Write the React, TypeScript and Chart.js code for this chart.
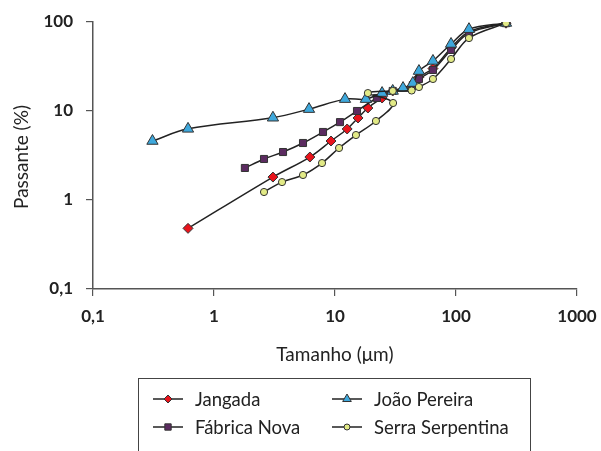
import React, { useEffect, useRef } from "react";
import { Chart, registerables } from "chart.js";

Chart.register(...registerables);

// Data (size in µm, passing %)
const jangadaX = [0.61, 3.07, 6.2, 9.27, 12.6, 15.5, 18.7, 24.5, 30, 44, 49.4, 64.5, 91, 128, 259];
const jangadaY = [0.48, 1.81, 3.04, 4.6, 6.28, 8.35, 10.8, 14.0, 16.8, 18.5, 24, 30, 51, 78, 97];

const fabricaX = [1.8, 2.59, 3.72, 5.44, 7.96, 11.0, 15.2, 22.2, 30, 44, 49.4, 64.5, 91, 128, 259];
const fabricaY = [2.29, 2.89, 3.46, 4.37, 5.81, 7.5, 10.0, 14.0, 16.8, 19.5, 22.9, 28.9, 48.5, 75, 97];

const joaoX = [0.31, 0.61, 3.07, 6.1, 12.1, 18.0, 24.5, 30, 36.5, 44, 49.4, 64.5, 91, 128, 259];
const joaoY = [4.6, 6.3, 8.4, 10.5, 13.6, 13.6, 15.9, 16.8, 18.1, 20.6, 28.1, 36.5, 56.6, 83, 97.5];

const serraX = [2.59, 3.65, 5.44, 7.81, 10.8, 14.9, 21.8, 30.2, 18.7, 30, 43, 49.4, 64.5, 91, 128, 259];
const serraY = [1.23, 1.59, 1.91, 2.6, 3.84, 5.37, 7.72, 12.3, 15.9, 16.8, 17.0, 18.6, 22.9, 38.4, 66, 97];

const xTicks = [0.1, 1, 10, 100, 1000];
const yTicks = [0.1, 1, 10, 100];

const seriesNames = ["Jangada", "Fábrica Nova", "João Pereira", "Serra Serpentina"];
const FONT = "Lato, 'Open Sans', sans-serif";

const toPts = (xs: number[], ys: number[]) => xs.map((x, i) => ({ x, y: ys[i] }));
const fmt = (v: number) => String(v).replace(".", ",");

const styles = [
  { color: "#e8141c", shape: "rectRot", r: 5, lr: 4 },
  { color: "#5b2b60", shape: "rect", r: 5, lr: 4.5 },
  { color: "#3ea8dc", shape: "triangle", r: 6.5, lr: 5 },
  { color: "#e2ea86", shape: "circle", r: 3.6, lr: 3 },
];

export default function App() {
  const ref = useRef<HTMLCanvasElement | null>(null);
  useEffect(() => {
    if (!ref.current) return;
    const data = [
      toPts(jangadaX, jangadaY),
      toPts(fabricaX, fabricaY),
      toPts(joaoX, joaoY),
      toPts(serraX, serraY),
    ];
    const orders = [3, 2, 1, 0];
    const overlay = {
      id: "overlay",
      afterDraw(chart: any) {
        const ctx = chart.ctx;
        ctx.save();
        ctx.fillStyle = "#222";
        ctx.font = `19px ${FONT}`;
        ctx.textAlign = "center";
        ctx.textBaseline = "middle";
        const ca = chart.chartArea;
        ctx.fillText("Tamanho (μm)", (ca.left + ca.right) / 2, 355);
        ctx.save();
        ctx.translate(22, 157);
        ctx.rotate(-Math.PI / 2);
        ctx.font = `19px ${FONT}`;
        ctx.fillText("Passante (%)", 0, 0);
        ctx.restore();
        ctx.strokeStyle = "#444";
        ctx.lineWidth = 1;
        ctx.strokeRect(138.5, 378.5, 392, 90);
        const pos = [
          { lx: 153, y: 399 },
          { lx: 153, y: 427 },
          { lx: 332, y: 399 },
          { lx: 332, y: 427 },
        ];
        ctx.font = `18.5px ${FONT}`;
        ctx.textAlign = "left";
        seriesNames.forEach((name, i) => {
          const p = pos[i];
          const st = styles[i];
          ctx.strokeStyle = "#222";
          ctx.lineWidth = 1.5;
          ctx.beginPath();
          ctx.moveTo(p.lx, p.y);
          ctx.lineTo(p.lx + 30, p.y);
          ctx.stroke();
          ctx.fillStyle = st.color;
          ctx.strokeStyle = "#333";
          ctx.lineWidth = 1;
          drawMarker(ctx, st.shape, st.lr, p.lx + 15, p.y);
          ctx.fillStyle = "#222";
          ctx.fillText(name, p.lx + 42, p.y + 1);
        });
        ctx.restore();
      },
    };
    const chart = new Chart(ref.current, {
      type: "line",
      data: {
        datasets: data.map((d, i) => ({
          label: seriesNames[i],
          data: d,
          order: orders[i],
          borderColor: "#222",
          borderWidth: 1.5,
          tension: 0.35,
          fill: false,
          pointStyle: styles[i].shape as any,
          pointRadius: styles[i].r,
          pointBackgroundColor: styles[i].color,
          pointBorderColor: "#333",
          pointBorderWidth: 1,
        })),
      },
      options: {
        animation: false,
        responsive: false,
        parsing: false as any,
        layout: { padding: { left: 0, top: 22, right: 24, bottom: 0 } },
        plugins: { legend: { display: false }, tooltip: { enabled: false } },
        scales: {
          x: {
            type: "logarithmic",
            min: 0.1,
            max: 1000,
            afterBuildTicks: (s: any) => {
              s.ticks = xTicks.map((v) => ({ value: v }));
            },
            afterFit: (s: any) => {
              s.height = 162;
              s.paddingLeft = 0;
              s.paddingRight = 0;
            },
            ticks: {
              autoSkip: false,
              maxRotation: 0,
              padding: 10,
              color: "#222",
              font: { family: FONT, size: 17, weight: "bold" },
              callback: (v: any) => fmt(Number(v)),
            },
            grid: { drawOnChartArea: false, drawTicks: true, tickLength: 7, color: "#555", lineWidth: 1.2 },
            border: { color: "#555", width: 1.5 },
          },
          y: {
            type: "logarithmic",
            min: 0.1,
            max: 100,
            afterBuildTicks: (s: any) => {
              s.ticks = yTicks.map((v) => ({ value: v }));
            },
            afterFit: (s: any) => {
              s.width = 93;
              s.paddingTop = 0;
              s.paddingBottom = 0;
            },
            ticks: {
              autoSkip: false,
              padding: 13,
              color: "#222",
              font: { family: FONT, size: 17, weight: "bold" },
              callback: (v: any) => fmt(Number(v)),
            },
            grid: { drawOnChartArea: false, drawTicks: true, tickLength: 7, color: "#555", lineWidth: 1.2 },
            border: { color: "#555", width: 1.5 },
          },
        },
      },
      plugins: [overlay],
    });
    return () => chart.destroy();
  }, []);
  return (
    <div style={{ position: "absolute", left: 0, top: 0, width: 601, height: 451, background: "#fff" }}>
      <canvas ref={ref} width={601} height={451} style={{ display: "block" }} />
    </div>
  );
}

function drawMarker(ctx: CanvasRenderingContext2D, shape: string, r: number, x: number, y: number) {
  ctx.beginPath();
  if (shape === "circle") {
    ctx.arc(x, y, r, 0, Math.PI * 2);
  } else if (shape === "rect") {
    const s = r * Math.SQRT1_2;
    ctx.rect(x - s, y - s, 2 * s, 2 * s);
  } else if (shape === "rectRot") {
    ctx.moveTo(x - r, y);
    ctx.lineTo(x, y - r);
    ctx.lineTo(x + r, y);
    ctx.lineTo(x, y + r);
    ctx.closePath();
  } else if (shape === "triangle") {
    const a = (2 * Math.PI) / 3;
    ctx.moveTo(x, y - r);
    ctx.lineTo(x + Math.sin(a) * r, y - Math.cos(a) * r);
    ctx.lineTo(x + Math.sin(2 * a) * r, y - Math.cos(2 * a) * r);
    ctx.closePath();
  }
  ctx.fill();
  ctx.stroke();
}
